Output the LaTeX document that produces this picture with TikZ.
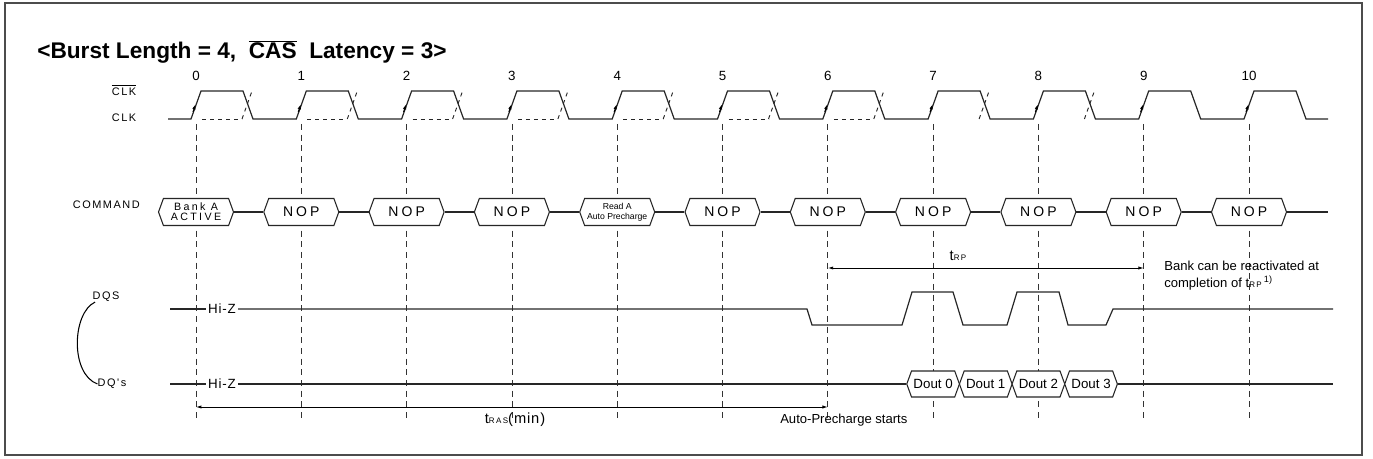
\documentclass[tikz,border=0pt]{standalone}
\usepackage{fontspec}
\setmainfont{Liberation Sans}
\newfontfamily\spaced[LetterSpace=22]{Liberation Sans}
\newfontfamily\spacedlbl[LetterSpace=14]{Liberation Sans}
\newfontfamily\spacedsm[LetterSpace=18]{Liberation Sans}
\newfontfamily\spacedhiz[LetterSpace=6]{Liberation Sans}
\usetikzlibrary{arrows.meta, shapes.symbols, calc}
\newcommand\barred[1]{$\overline{\hbox{#1}}$}
\newcommand\tsmall[1]{{\spacedsm\fontsize{6}{6}\selectfont #1}}
\tikzset{
	wave/.style={line width=0.9pt, color=black!85},
	clkbar/.style={line width=0.7pt, dash pattern=on 3pt off 3pt, color=black!85},
	gridline/.style={line width=0.6pt, dash pattern=on 4.5pt off 3.5pt, color=black!80},
	cmdbox/.style={
		signal, signal to=east and west, signal pointer angle=140,
		draw=black!85, fill=white, line width=0.8pt,
		minimum width=56.25pt, minimum height=20.25pt,
		inner sep=0pt, align=center,
		font=\spaced\fontsize{10.5}{12}\selectfont
	},
	doutbox/.style={
		cmdbox, minimum width=39.5pt, minimum height=19.5pt,
		font=\fontsize{10}{11}\selectfont
	},
	siglabel/.style={font=\spacedlbl\fontsize{8.2}{10}\selectfont, inner sep=0pt},
	cyclenum/.style={font=\fontsize{10}{11}\selectfont, inner sep=0pt},
	note/.style={font=\fontsize{9.8}{10}\selectfont, inner sep=0pt},
	hiz/.style={font=\spacedhiz\fontsize{10}{11}\selectfont, inner xsep=1.5pt, inner ysep=0pt},
	dimarrow/.style={
		{Latex[length=4pt,width=2.4pt]}-{Latex[length=4pt,width=2.4pt]},
		line width=0.6pt
	},
	edgetip/.style={-{Latex[length=4pt,width=2.6pt]}, line width=0.8pt}
}

\begin{document}
\begin{tikzpicture}[x=0.75pt, y=-0.75pt]
	\useasboundingbox (0,0) rectangle (1373,459);
	
	%% ═══════════════════════════════
	%%  FRAME + TITLE
	%% ═══════════════════════════════
	\draw[line width=1pt, black!70] (5,3) rectangle (1362,455);
	\node[anchor=west, inner sep=0pt,
	font=\bfseries\fontsize{17}{19}\selectfont] (title) at (37,52)
	{<Burst Length = 4,\ \ \barred{CAS}\ \ Latency = 3>};
	
	%% ═══════════════════════════════
	%%  CLOCK — cycle k at x = 196 + 105.3 k
	%% ═══════════════════════════════
	\node[siglabel] (clkbarlbl) at (124,90)  {\barred{CLK}};
	\node[siglabel] (clklbl)    at (124,118) {CLK};
	
	\draw[wave] (168,119)
	foreach \k in {0,...,10} {
		-- ({196+105.3*\k-5},119) -- ({196+105.3*\k+5},91)
		-- ({196+105.3*\k+47},91) -- ({196+105.3*\k+57},119)
	} -- (1328,119);
	
	\foreach \k in {0,...,10} {
		\node[cyclenum] (num\k) at ({196+105.3*\k},76) {\k};
		\draw[edgetip] ({196+105.3*\k-3},112) -- ({196+105.3*\k-0.4},104);
		\draw[gridline] ({196+105.3*\k},124) -- ({196+105.3*\k},422);
	}
	% complementary clock (dashed)
	\foreach \k in {0,...,6}
	\draw[clkbar] ({196+105.3*\k+6},119) -- ({196+105.3*\k+46},119);
	\foreach \k in {0,...,8}
	\draw[clkbar] ({196+105.3*\k+46},119) -- ({196+105.3*\k+56},91);
	
	%% ═══════════════════════════════
	%%  COMMAND
	%% ═══════════════════════════════
	\node[siglabel, anchor=east] (cmdlbl) at (140,205) {COMMAND};
	
	\node[cmdbox, font=\spaced\fontsize{8}{7.5}\selectfont]
	(cmd0) at (196,212) {Bank A\\ACTIVE};
	\node[cmdbox] (cmd1) at (301.3,212) {NOP};
	\node[cmdbox] (cmd2) at (406.6,212) {NOP};
	\node[cmdbox] (cmd3) at (511.9,212) {NOP};
	\node[cmdbox, font=\fontsize{6.5}{7.5}\selectfont]
	(cmd4) at (617.2,212) {Read A\\Auto Precharge};
	\node[cmdbox] (cmd5)  at (722.5,212)  {NOP};
	\node[cmdbox] (cmd6)  at (827.8,212)  {NOP};
	\node[cmdbox] (cmd7)  at (933.1,212)  {NOP};
	\node[cmdbox] (cmd8)  at (1038.4,212) {NOP};
	\node[cmdbox] (cmd9)  at (1143.7,212) {NOP};
	\node[cmdbox] (cmd10) at (1249,212)   {NOP};
	\coordinate (cmdend) at (1328,212);
	
	\foreach \a/\b in {0/1,1/2,2/3,3/4,4/5,5/6,6/7,7/8,8/9,9/10}
	\draw[wave] (cmd\a.east) -- (cmd\b.west);
	\draw[wave] (cmd10.east) -- (cmdend);
	
	%% ═══════════════════════════════
	%%  tRP
	%% ═══════════════════════════════
	\coordinate (trpL) at (827.8,268);
	\coordinate (trpR) at (1143.7,268);
	\draw[dimarrow] (trpL) -- (trpR);
	\node[font=\fontsize{11}{12}\selectfont, inner sep=0pt] (trplbl) at (958,256)
	{t\tsmall{RP}};
	
	\node[note, anchor=west] (reac1) at (1164,266) {Bank can be reactivated at};
	\node[note, anchor=west] (reac2) at (1164,283)
	{completion of t\tsmall{RP}\,\textsuperscript{1)}};
	
	%% ═══════════════════════════════
	%%  DQS
	%% ═══════════════════════════════
	\node[siglabel] (dqslbl) at (106,297) {DQS};
	\coordinate (dqsstart) at (170,309);
	\node[hiz] (dqshiz) at (222,309) {Hi-Z};
	\draw[wave] (dqsstart) -- (dqshiz.west);
	\draw[wave] (dqshiz.east) -- (807,309) -- (812,325) -- (902,325)
	-- (912,292) -- (953,292) -- (963,325) -- (1007,325)
	-- (1017,292) -- (1059,292) -- (1068,325) -- (1106,325)
	-- (1113,309) -- (1333,309);
	
	%% ═══════════════════════════════
	%%  DQ's
	%% ═══════════════════════════════
	\node[siglabel] (dqlbl) at (112,384) {DQ's};
	\coordinate (dqstart) at (170,384);
	\node[hiz] (dqhiz) at (222,384) {Hi-Z};
	
	\node[doutbox] (dout0) at (933.1,384)  {Dout 0};
	\node[doutbox] (dout1) at (985.75,384) {Dout 1};
	\node[doutbox] (dout2) at (1038.4,384) {Dout 2};
	\node[doutbox] (dout3) at (1091.05,384){Dout 3};
	\coordinate (dqend) at (1333,384);
	
	\draw[wave] (dqstart) -- (dqhiz.west);
	\draw[wave] (dqhiz.east) -- (dout0.west);
	\draw[wave] (dout3.east) -- (dqend);
	
	% DQS / DQ's bracket
	\draw[line width=0.8pt] ([xshift=2pt]dqslbl.south west) .. controls (72,313) and (70,374) .. (dqlbl.west);
	
	%% ═══════════════════════════════
	%%  tRAS
	%% ═══════════════════════════════
	\coordinate (trasL) at (196,407);
	\coordinate (trasR) at (827.8,407);
	\draw[dimarrow] (trasL) -- (trasR);
	\node[font=\spacedhiz\fontsize{11}{12}\selectfont, inner sep=0pt] (traslbl) at (515,420)
	{t\tsmall{RAS}(min)};
	\node[note, anchor=west] (apstart) at (780,420) {Auto-Precharge starts};
\end{tikzpicture}
\end{document}
